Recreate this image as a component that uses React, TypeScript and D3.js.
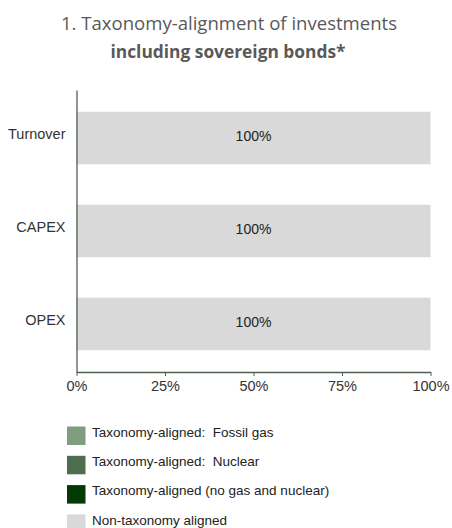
import React, { useEffect, useRef } from "react";
import * as d3 from "d3";

const categories = ["Turnover", "CAPEX", "OPEX"];
const seriesKeys = ["fossilGas", "nuclear", "aligned", "nonAligned"];
const seriesLabels = [
  "Taxonomy-aligned:  Fossil gas",
  "Taxonomy-aligned:  Nuclear",
  "Taxonomy-aligned (no gas and nuclear)",
  "Non-taxonomy aligned",
];
const seriesColors = ["#809d80", "#4e6d4e", "#033a03", "#d9d9d9"];
const fossilGas = [0, 0, 0];
const nuclear = [0, 0, 0];
const aligned = [0, 0, 0];
const nonAligned = [100, 100, 100];
const tickValues = [0, 25, 50, 75, 100];
const titleLine1 = "1. Taxonomy-alignment of investments";
const titleLine2 = "including sovereign bonds*";

const W = 452;
const H = 528;

export default function App() {
  const ref = useRef<SVGSVGElement>(null);

  useEffect(() => {
    const svg = d3.select(ref.current);
    svg.selectAll("*").remove();

    const rows = categories.map((c, i) => ({
      category: c,
      fossilGas: fossilGas[i],
      nuclear: nuclear[i],
      aligned: aligned[i],
      nonAligned: nonAligned[i],
    }));

    const x = d3.scaleLinear().domain([0, 100]).range([76.5, 430.5]);
    const y = d3
      .scaleBand()
      .domain(categories)
      .range([90, 372])
      .paddingInner(0.435)
      .paddingOuter(0.234);

    // Title
    const title = svg.append("g").attr("font-family", "'Open Sans', sans-serif").attr("fill", "#595959");
    title
      .append("text")
      .attr("x", 229)
      .attr("y", 29.5)
      .attr("text-anchor", "middle")
      .attr("font-size", 18.5)
      .attr("textLength", 336)
      .attr("lengthAdjust", "spacingAndGlyphs")
      .text(titleLine1);
    title
      .append("text")
      .attr("x", 228)
      .attr("y", 57.5)
      .attr("text-anchor", "middle")
      .attr("font-size", 17.5)
      .attr("font-weight", "bold")
      .attr("textLength", 235)
      .attr("lengthAdjust", "spacingAndGlyphs")
      .text(titleLine2);

    // Bars
    const stack = d3.stack<any>().keys(seriesKeys);
    const stacked = stack(rows as any);
    stacked.forEach((s, si) => {
      svg
        .append("g")
        .attr("fill", seriesColors[si])
        .selectAll("rect")
        .data(s)
        .join("rect")
        .attr("x", (d) => x(d[0]))
        .attr("y", (d: any) => y(d.data.category)!)
        .attr("width", (d) => Math.max(0, x(d[1]) - x(d[0])))
        .attr("height", y.bandwidth());
    });

    // Value labels
    const last = stacked[stacked.length - 1];
    svg
      .append("g")
      .attr("font-family", "'Liberation Sans', Arial, sans-serif")
      .attr("font-size", 14)
      .attr("fill", "#222")
      .attr("text-anchor", "middle")
      .selectAll("text")
      .data(last)
      .join("text")
      .attr("x", (d) => (x(d[0]) + x(d[1])) / 2)
      .attr("y", (d: any) => y(d.data.category)! + y.bandwidth() / 2)
      .attr("dy", "0.2em")
      .text((d) => `${d[1] - d[0]}%`);

    // X axis
    const axisColor = "#4f624f";
    const xAxis = svg
      .append("g")
      .attr("transform", "translate(0,372)")
      .call(
        d3
          .axisBottom(x)
          .tickValues(tickValues)
          .tickSize(4)
          .tickSizeOuter(0)
          .tickPadding(5)
          .tickFormat((d) => `${d}%`)
      );
    xAxis.select(".domain").attr("stroke", axisColor).attr("stroke-width", 1.3);
    xAxis.selectAll(".tick line").attr("stroke", axisColor);
    xAxis
      .selectAll(".tick text")
      .attr("font-family", "'Liberation Sans', Arial, sans-serif")
      .attr("font-size", 14.5)
      .attr("fill", "#333");

    // Y axis
    const yAxis = svg
      .append("g")
      .attr("transform", "translate(76.5,0)")
      .call(d3.axisLeft(y).tickSize(0).tickPadding(11));
    yAxis.select(".domain").attr("stroke", axisColor).attr("stroke-width", 1.3);
    yAxis
      .selectAll(".tick text")
      .attr("font-family", "'Liberation Sans', Arial, sans-serif")
      .attr("font-size", 14.5)
      .attr("fill", "#333")
      .attr("dy", "0.1em");

    // Legend
    const legend = svg
      .append("g")
      .selectAll("g")
      .data(seriesLabels)
      .join("g")
      .attr("transform", (_, i) => `translate(67,${426.5 + i * 29.3})`);
    legend
      .append("rect")
      .attr("width", 18.5)
      .attr("height", 18.5)
      .attr("fill", (_, i) => seriesColors[i]);
    legend
      .append("text")
      .attr("x", 25)
      .attr("y", 5.5)
      .attr("dy", "0.35em")
      .attr("font-family", "'Liberation Sans', Arial, sans-serif")
      .attr("font-size", 13.5)
      .attr("fill", "#222")
      .style("white-space", "pre")
      .text((d) => d);
  }, []);

  return (
    <svg
      ref={ref}
      width={W}
      height={H}
      style={{ position: "absolute", left: 0, top: 0, background: "#fff" }}
    />
  );
}
